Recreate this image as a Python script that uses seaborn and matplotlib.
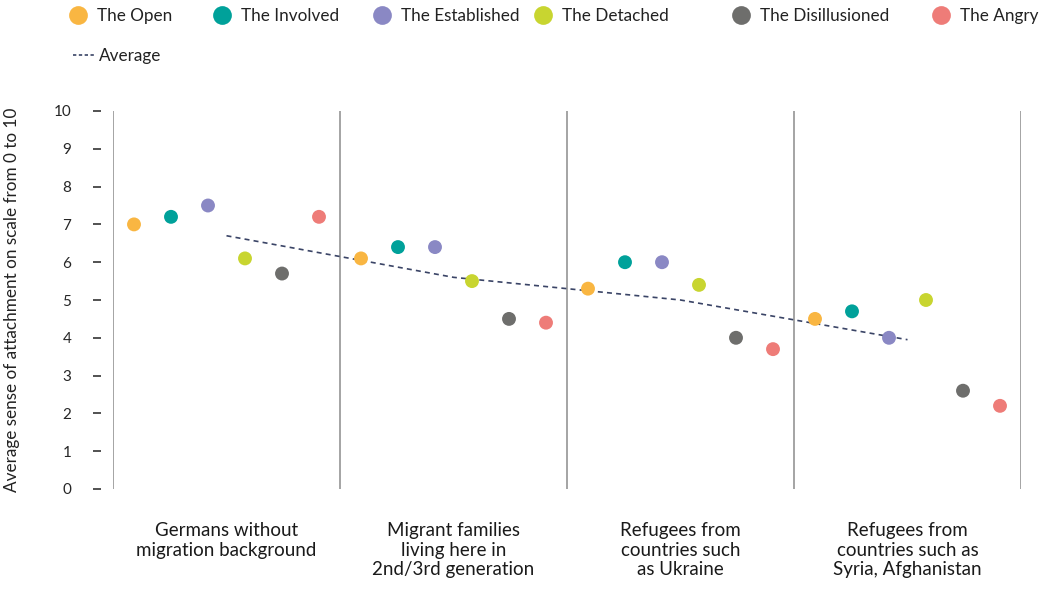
import matplotlib
matplotlib.use("Agg")
import matplotlib.pyplot as plt
from matplotlib.lines import Line2D
import seaborn as sns
import pandas as pd
import numpy as np

categories = ["Germans without\nmigration background",
              "Migrant families\nliving here in\n2nd/3rd generation",
              "Refugees from\ncountries such\nas Ukraine",
              "Refugees from\ncountries such as\nSyria, Afghanistan"]
segments = ["The Open", "The Involved", "The Established", "The Detached",
            "The Disillusioned", "The Angry"]
colors = ["#F9B642", "#00A19A", "#8A88C4", "#C8D530", "#6E6E6C", "#EE7C78"]

the_open = [7.0, 6.1, 5.3, 4.5]
the_involved = [7.2, 6.4, 6.0, 4.7]
the_established = [7.5, 6.4, 6.0, 4.0]
the_detached = [6.1, 5.5, 5.4, 5.0]
the_disillusioned = [5.7, 4.5, 4.0, 2.6]
the_angry = [7.2, 4.4, 3.7, 2.2]
average = [6.7, 5.6, 5.0, 3.95]
y_ticks = list(range(0, 11))

series = [the_open, the_involved, the_established, the_detached,
          the_disillusioned, the_angry]

rows = []
for si, (seg, vals) in enumerate(zip(segments, series)):
    for ci, v in enumerate(vals):
        rows.append({"cat": ci, "segment": seg, "value": v,
                     "x": ci + (si - 2.5) * 0.163})
df = pd.DataFrame(rows)
avg_df = pd.DataFrame({"x": range(len(categories)), "value": average})

sns.set_theme(style="white")
plt.rcParams["font.family"] = ["Lato", "DejaVu Sans"]

fig = plt.figure(figsize=(10.46, 5.91), dpi=100)
ax = fig.add_axes([113 / 1046, 1 - 489 / 591, 908 / 1046, 378 / 591])

for b in np.arange(-0.5, len(categories) + 0.5, 1.0):
    ax.axvline(b, color="#8c8c8c", lw=1.1, zorder=1)

sns.lineplot(data=avg_df, x="x", y="value", ax=ax, color="#3A4466",
             lw=1.2, linestyle=(0, (3, 2.5)), zorder=2, legend=False)
sns.scatterplot(data=df, x="x", y="value", hue="segment", hue_order=segments,
                palette=colors, s=100, edgecolor="none", ax=ax, zorder=3,
                legend=False)

ax.set_xlim(-0.5, len(categories) - 0.5)
ax.set_ylim(0, 10)
ax.set_xticks(range(len(categories)))
ax.set_xticklabels(categories, fontsize=13.5, color="#1a1a1a", linespacing=1.18,
                   va="top")
ax.tick_params(axis="x", length=0, pad=24)
ax.set_yticks(y_ticks)
ax.set_yticklabels([str(t) for t in y_ticks], fontsize=15, color="#222222")
ax.tick_params(axis="y", direction="out", length=6, width=1.1,
               color="#222222", pad=15, left=True)
for sp in ["top", "right", "bottom"]:
    ax.spines[sp].set_visible(False)
ax.spines["left"].set_position(("outward", 9))
ax.spines["left"].set_visible(False)
ax.set_xlabel("")
ax.set_ylabel("Average sense of attachment on scale from 0 to 10",
              fontsize=12.3, color="#222222")
ax.yaxis.set_label_coords(-0.102, 0.5)

# legend entries, one per segment
marker_x = [78, 222, 382, 543, 741, 941]
for seg, c, mx in zip(segments, colors, marker_x):
    h = Line2D([0], [0], marker="o", linestyle="none", markersize=13.5,
               markerfacecolor=c, markeredgecolor="none")
    fig.legend([h], [seg], loc="center left",
               bbox_to_anchor=((mx - 9) / 1046, 1 - 16 / 591), frameon=False,
               fontsize=12.3, handletextpad=0.65, handlelength=1.0,
               borderpad=0, borderaxespad=0, labelcolor="#222222")
avg_handle = [Line2D([0], [0], color="#3A4466", lw=1.2,
                     linestyle=(0, (2, 1.5)))]
fig.legend(avg_handle, ["Average"], loc="center left",
           bbox_to_anchor=(73 / 1046, 1 - 56 / 591), frameon=False,
           fontsize=12.3, handletextpad=0.3, handlelength=1.2,
           borderpad=0, borderaxespad=0, labelcolor="#222222")

fig.savefig("out.png", dpi=100)
